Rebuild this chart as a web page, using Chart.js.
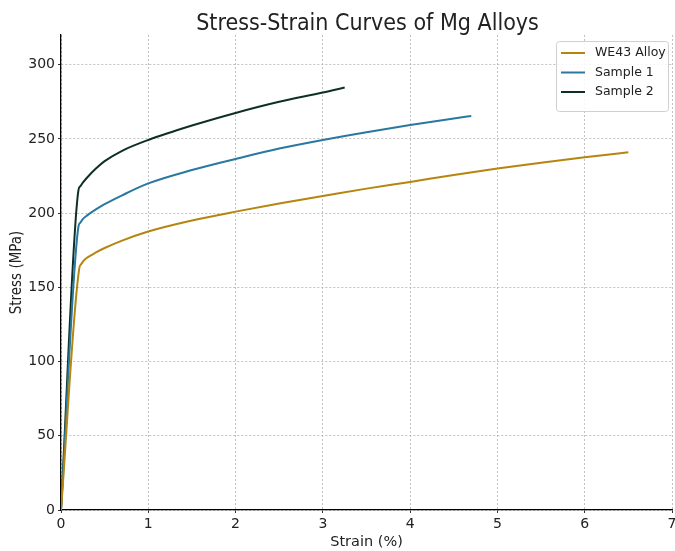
<!DOCTYPE html>
<html>
<head>
<meta charset="utf-8">
<script src="https://cdn.jsdelivr.net/npm/chart.js@4.4.0/dist/chart.umd.min.js"></script>
<style>
  html, body { margin: 0; padding: 0; background: #fff; }
</style>
</head>
<body>
<canvas id="ss-chart" width="675" height="551"></canvas>
<script>
// data
var we43Strain = [0, 0.21, 0.23, 0.26, 0.3, 0.4, 0.5, 0.7, 1, 1.5, 2, 2.5, 3, 3.5, 4, 4.5, 5, 5.5, 6, 6.5];
var we43Stress = [0, 163, 165.5, 168, 170, 173.5, 176.5, 181.5, 187.6, 195, 201, 206.5, 211.5, 216.5, 221, 225.7, 230, 234, 237.6, 241];

var s1Strain = [0, 0.2, 0.22, 0.25, 0.3, 0.4, 0.5, 0.7, 1, 1.5, 2, 2.5, 3, 3.5, 4, 4.5, 4.7];
var s1Stress = [0, 191, 193.5, 196, 198.5, 202.5, 206, 212, 220, 229, 236.5, 243.5, 249.3, 254.5, 259.4, 263.8, 265.5];

var s2Strain = [0, 0.2, 0.22, 0.25, 0.3, 0.4, 0.5, 0.7, 1, 1.5, 2, 2.5, 3, 3.25];
var s2Stress = [0, 215.5, 218, 220.5, 224, 230, 235, 242, 249.3, 259, 267.5, 275, 281.2, 284.6];

var xTicks = [0, 1, 2, 3, 4, 5, 6, 7];
var yTicks = [0, 50, 100, 150, 200, 250, 300];

var chartTitle = 'Stress-Strain Curves of Mg Alloys';

function toPoints(xs, ys) {
  return xs.map(function (x, i) { return { x: x, y: ys[i] }; });
}

var FONT = 'DejaVu Sans';
var FONT_C = 'DejaVu Sans Condensed';

// title centred over the plot area, legend inside top right (matplotlib style)
var overlay = {
  id: 'overlay',
  afterDraw: function (chart) {
    var ctx = chart.ctx;
    var area = chart.chartArea;
    var sets = chart.data.datasets;
    ctx.save();
    ctx.fillStyle = '#222';
    ctx.font = '23px "' + FONT_C + '", "' + FONT + '"';
    ctx.textAlign = 'center';
    ctx.textBaseline = 'alphabetic';
    ctx.fillText(chartTitle, (area.left + area.right) / 2 + 1, 29.5);

    var x = 556, y = 41, w = 112, h = 70, r = 3;
    ctx.fillStyle = 'rgba(255,255,255,0.85)';
    ctx.strokeStyle = '#cfcfcf';
    ctx.lineWidth = 1;
    ctx.beginPath();
    ctx.roundRect(x + 0.5, y + 0.5, w, h, r);
    ctx.fill();
    ctx.stroke();
    ctx.font = '12.5px "' + FONT + '"';
    ctx.textAlign = 'left';
    ctx.textBaseline = 'middle';
    ctx.fillStyle = '#222';
    sets.forEach(function (ds, i) {
      var cy = y + 12 + i * 19.5;
      ctx.strokeStyle = ds.borderColor;
      ctx.lineWidth = 2;
      ctx.beginPath();
      ctx.moveTo(x + 5, cy);
      ctx.lineTo(x + 29, cy);
      ctx.stroke();
      ctx.fillText(ds.label, x + 39, cy);
    });
    ctx.restore();
  }
};

var ctx = document.getElementById('ss-chart').getContext('2d');

var gridOpts = {
  color: '#b0b0b0',
  lineWidth: 0.8,
  drawTicks: true,
  tickLength: 3,
  tickColor: '#000'
};

var myChart = new Chart(ctx, {
  type: 'scatter',
  data: {
    datasets: [{
      label: 'WE43 Alloy',
      data: toPoints(we43Strain, we43Stress),
      borderColor: '#b5850f',
      borderWidth: 2
    }, {
      label: 'Sample 1',
      data: toPoints(s1Strain, s1Stress),
      borderColor: '#2878a0',
      borderWidth: 2
    }, {
      label: 'Sample 2',
      data: toPoints(s2Strain, s2Stress),
      borderColor: '#0e3024',
      borderWidth: 2
    }]
  },
  options: {
    responsive: false,
    animation: false,
    showLine: true,
    elements: {
      point: { radius: 0, hoverRadius: 0 },
      line: { cubicInterpolationMode: 'monotone', fill: false }
    },
    layout: { padding: { left: 0, right: 3, top: 35, bottom: 0 } },
    plugins: {
      legend: { display: false },
      tooltip: { enabled: false },
      title: { display: false }
    },
    scales: {
      x: {
        type: 'linear',
        min: 0,
        max: 7,
        afterBuildTicks: function (s) { s.ticks = xTicks.map(function (v) { return { value: v }; }); },
        afterFit: function (s) { s.height = 41; s.paddingRight = 0; s.paddingLeft = 0; },
        grid: gridOpts,
        border: { display: true, color: '#000', width: 1.3, dash: [2, 2] },
        ticks: {
          color: '#222',
          padding: 3,
          maxRotation: 0,
          font: { family: FONT, size: 14 }
        },
        title: {
          display: true,
          text: 'Strain (%)',
          color: '#222',
          padding: { top: 0, bottom: 0 },
          font: { family: FONT, size: 14.5 }
        }
      },
      y: {
        type: 'linear',
        min: 0,
        max: 320,
        afterBuildTicks: function (s) { s.ticks = yTicks.map(function (v) { return { value: v }; }); },
        afterFit: function (s) { s.width = 61; s.paddingTop = 0; s.paddingBottom = 0; },
        grid: gridOpts,
        border: { display: true, color: '#000', width: 1.3, dash: [2, 2] },
        ticks: {
          color: '#222',
          padding: 3,
          font: { family: FONT, size: 14 }
        },
        title: {
          display: true,
          text: 'Stress (MPa)',
          color: '#222',
          padding: { top: 8, bottom: 0 },
          font: { family: FONT_C, size: 15 }
        }
      }
    }
  },
  plugins: [overlay]
});
</script>
</body>
</html>
